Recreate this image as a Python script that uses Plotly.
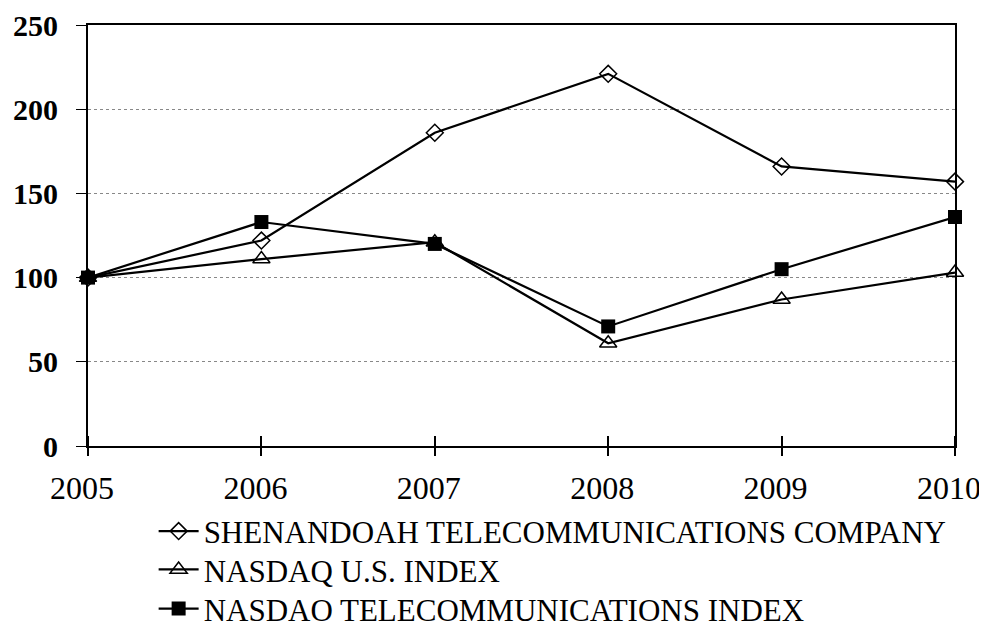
import plotly.graph_objects as go

years = [2005, 2006, 2007, 2008, 2009, 2010]
x_labels = ["2005", "2006", "2007", "2008", "2009", "2010"]
shenandoah = [100, 122, 186, 221, 166, 157]
nasdaq_us = [100, 111, 121, 61, 87, 103]
nasdaq_tel = [100, 133, 120, 71, 105, 136]
names = ["SHENANDOAH TELECOMMUNICATIONS COMPANY", "NASDAQ U.S. INDEX",
         "NASDAO TELECOMMUNICATIONS INDEX"]
y_ticks = [0, 50, 100, 150, 200, 250]

SERIF = "Times New Roman, Liberation Serif, serif"

fig = go.Figure()
fig.add_trace(go.Scatter(x=years, y=shenandoah, name=names[0], mode="lines+markers",
                         legend="legend",
                         line=dict(color="black", width=2.2), cliponaxis=False,
                         marker=dict(symbol="diamond-open", size=13, color="black",
                                     line=dict(width=1.5))))
fig.add_trace(go.Scatter(x=years, y=nasdaq_us, name=names[1], mode="lines+markers",
                         legend="legend2",
                         line=dict(color="black", width=2.2), cliponaxis=False,
                         marker=dict(symbol="triangle-up-open", size=15, color="black",
                                     line=dict(width=1.5))))
fig.add_trace(go.Scatter(x=years, y=nasdaq_tel, name=names[2], mode="lines+markers",
                         legend="legend3",
                         line=dict(color="black", width=2.2), cliponaxis=False,
                         marker=dict(symbol="square", size=14, color="black")))


def leg(ypos):
    return dict(x=0.0757, y=ypos, xanchor="left", yanchor="middle",
                font=dict(size=31, family=SERIF, color="black", weight="normal"),
                bgcolor="rgba(0,0,0,0)", itemwidth=40)


fig.update_layout(
    width=979, height=621,
    margin=dict(l=80, r=32, t=17, b=183, autoexpand=False),
    plot_bgcolor="white", paper_bgcolor="white",
    font=dict(family=SERIF, color="black", weight="normal"),
    showlegend=True,
    legend=leg(-0.203),
    legend2=leg(-0.294),
    legend3=leg(-0.387),
)
fig.update_xaxes(range=[2005, 2010], tickvals=years, ticktext=x_labels,
                 showline=True, linecolor="black", linewidth=2, mirror=True,
                 showgrid=False, zeroline=False, automargin=False,
                 ticklabeloverflow="allow", ticklabelstandoff=5, ticklabelshift=-6,
                 ticks="outside", ticklen=8, tickcolor="black", tickwidth=1.5,
                 minor=dict(tickvals=years, ticks="inside", ticklen=10,
                            tickcolor="black", tickwidth=1.5, showgrid=False),
                 tickfont=dict(size=32, family=SERIF, weight="normal"))
fig.update_yaxes(range=[0, 250], tickvals=y_ticks,
                 showline=True, linecolor="black", linewidth=2, mirror=True,
                 showgrid=True, gridcolor="#888888", gridwidth=1, griddash="dot",
                 zeroline=False, automargin=False, ticklabelstandoff=12,
                 ticklabeloverflow="allow",
                 ticks="outside", ticklen=10, tickcolor="black", tickwidth=1,
                 tickfont=dict(size=30, family=SERIF, weight="bold"))

fig.write_html("out.html")
